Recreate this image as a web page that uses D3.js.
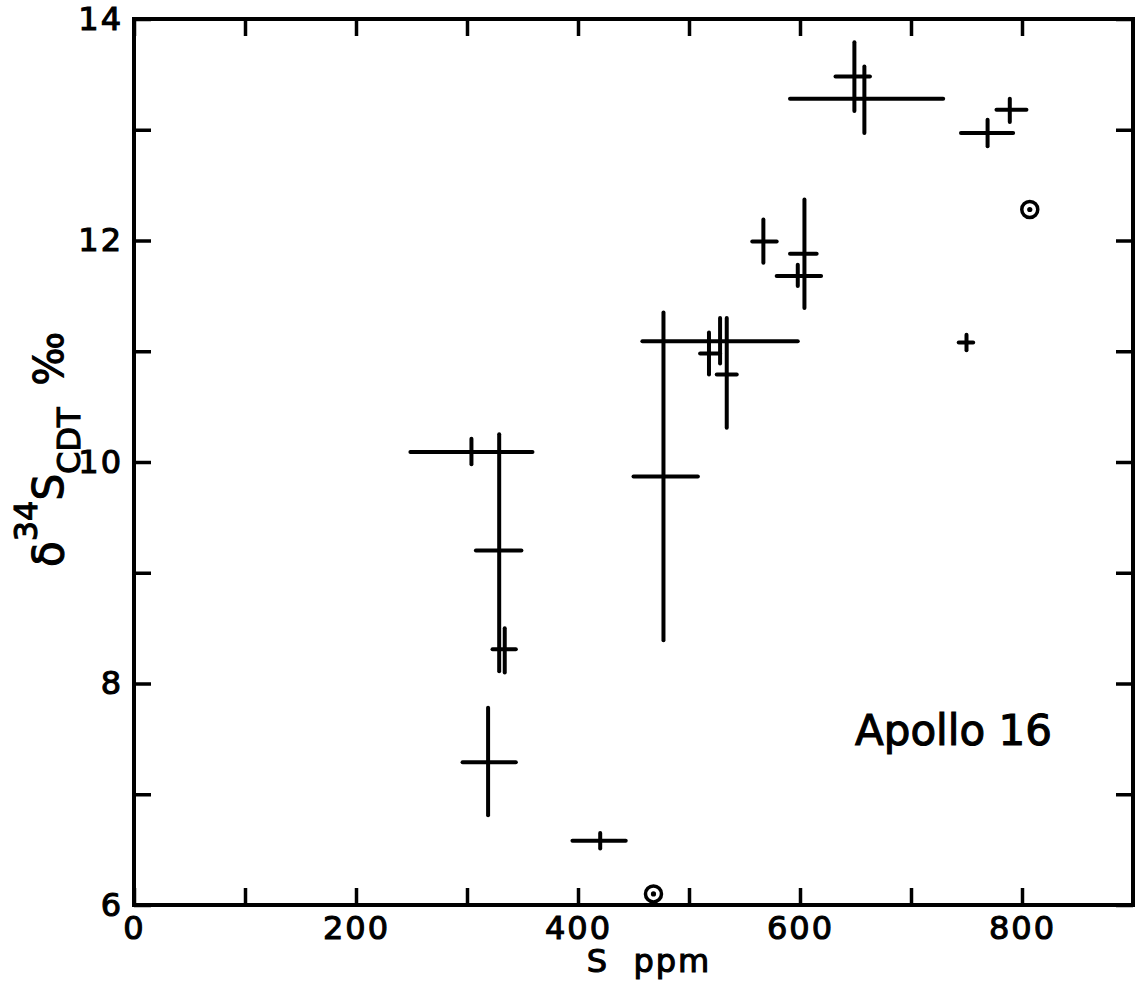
<!DOCTYPE html>
<html>
<head>
<meta charset="utf-8">
<script src="https://cdn.jsdelivr.net/npm/d3@7"></script>
<style>
  body { margin: 0; background: #fff; }
  svg { display: block; }
  text { font-family: "DejaVu Sans", sans-serif; fill: #000; stroke: #000; stroke-width: 1.1px; }
</style>
</head>
<body>
<svg id="chart" width="1135" height="983"></svg>
<script>
// ---- data ----
const sCenter  = [304, 329, 334, 319, 420, 477, 518, 528, 534, 567, 604, 598, 649, 658, 769, 789, 750];
const dCenter  = [10.09, 9.20, 8.31, 7.29, 6.58, 9.87, 10.98, 11.09, 10.79, 11.99, 11.88, 11.68, 13.48, 13.28, 12.97, 13.18, 11.08];
const sLow     = [249, 308, 323, 296, 395, 450, 510, 458, 525, 557, 591, 579, 632, 591, 745, 777, 743];
const sHigh    = [359, 349, 344, 344, 443, 508, 528, 598, 543, 579, 615, 619, 663, 729, 792, 804, 756];
const dLow     = [9.98, 8.11, 8.10, 6.81, 6.51, 8.39, 10.79, 10.89, 10.31, 11.80, 11.39, 11.59, 13.17, 12.97, 12.85, 13.07, 11.01];
const dHigh    = [10.21, 10.25, 8.50, 7.78, 6.65, 11.35, 11.17, 11.30, 11.30, 12.19, 12.37, 11.78, 13.79, 13.57, 13.09, 13.28, 11.15];
const circleS  = [468, 807];
const circleD  = [6.10, 12.28];
const xTicks   = [0, 100, 200, 300, 400, 500, 600, 700, 800, 900];
const xLabels  = [0, 200, 400, 600, 800];
const yTicks   = [6, 7, 8, 9, 10, 11, 12, 13, 14];
const yLabels  = [6, 8, 10, 12, 14];

const svg = d3.select("#chart");
const pL = 134, pR = 1133, pT = 19, pB = 905;
const x = d3.scaleLinear().domain([0, 900]).range([pL, pR]);
const y = d3.scaleLinear().domain([6, 14]).range([pB, pT]);
const TICK = 17;

function fmtX(d) { return xLabels.includes(d) ? d : ""; }
function fmtY(d) { return yLabels.includes(d) ? d : ""; }

function styleAxis(g) {
  g.select(".domain").remove();
  g.selectAll(".tick line").attr("stroke", "#000").attr("stroke-width", 3.5);
  g.selectAll(".tick text").attr("font-size", 32).attr("letter-spacing", 2)
    .style("font-family", '"DejaVu Sans", sans-serif');
}

// bottom axis
svg.append("g").attr("transform", `translate(0,${pB})`)
  .call(d3.axisBottom(x).tickValues(xTicks).tickSizeInner(-TICK).tickSizeOuter(0).tickPadding(11).tickFormat(fmtX))
  .call(styleAxis);
// top axis
svg.append("g").attr("transform", `translate(0,${pT})`)
  .call(d3.axisTop(x).tickValues(xTicks).tickSizeInner(-TICK).tickSizeOuter(0).tickFormat(""))
  .call(styleAxis);
// left axis
svg.append("g").attr("transform", `translate(${pL},0)`)
  .call(d3.axisLeft(y).tickValues(yTicks).tickSizeInner(-TICK).tickSizeOuter(0).tickPadding(11).tickFormat(fmtY))
  .call(styleAxis);
// right axis
svg.append("g").attr("transform", `translate(${pR},0)`)
  .call(d3.axisRight(y).tickValues(yTicks).tickSizeInner(-TICK).tickSizeOuter(0).tickFormat(""))
  .call(styleAxis);

// frame
svg.append("rect")
  .attr("x", pL).attr("y", pT)
  .attr("width", pR - pL).attr("height", pB - pT)
  .attr("fill", "none").attr("stroke", "#000").attr("stroke-width", 4);

// error crosses
const idx = d3.range(sCenter.length);
const marks = svg.append("g").attr("stroke", "#000").attr("stroke-width", 4).attr("stroke-linecap", "round");
marks.selectAll("line.h").data(idx).join("line").attr("class", "h")
  .attr("x1", i => x(sLow[i])).attr("x2", i => x(sHigh[i]))
  .attr("y1", i => y(dCenter[i])).attr("y2", i => y(dCenter[i]));
marks.selectAll("line.v").data(idx).join("line").attr("class", "v")
  .attr("x1", i => x(sCenter[i])).attr("x2", i => x(sCenter[i]))
  .attr("y1", i => y(dLow[i])).attr("y2", i => y(dHigh[i]));

// circled dots
const cidx = d3.range(circleS.length);
svg.append("g").selectAll("circle.o").data(cidx).join("circle").attr("class", "o")
  .attr("cx", i => x(circleS[i])).attr("cy", i => y(circleD[i])).attr("r", 8)
  .attr("fill", "none").attr("stroke", "#000").attr("stroke-width", 3.5);
svg.append("g").selectAll("circle.c").data(cidx).join("circle").attr("class", "c")
  .attr("cx", i => x(circleS[i])).attr("cy", i => y(circleD[i])).attr("r", 2.6)
  .attr("fill", "#000");

// axis titles
svg.append("text").attr("x", 649).attr("y", 972).attr("text-anchor", "middle")
  .attr("font-size", 32).attr("letter-spacing", 2).attr("xml:space", "preserve").text("S  ppm");

const yt = svg.append("text").attr("transform", "translate(63,567) rotate(-90)")
  .attr("font-size", 42).attr("xml:space", "preserve");
yt.append("tspan").text("δ");
yt.append("tspan").attr("font-size", 32).attr("dy", -26).text("34");
yt.append("tspan").attr("dy", 26).text("S");
yt.append("tspan").attr("font-size", 32).attr("dy", 17).text("CDT");
yt.append("tspan").attr("font-size", 40).attr("dy", -17).attr("dx", 22).text("‰");

// annotation
svg.append("text").attr("x", 855).attr("y", 745).attr("font-size", 42).text("Apollo 16");
</script>
</body>
</html>
